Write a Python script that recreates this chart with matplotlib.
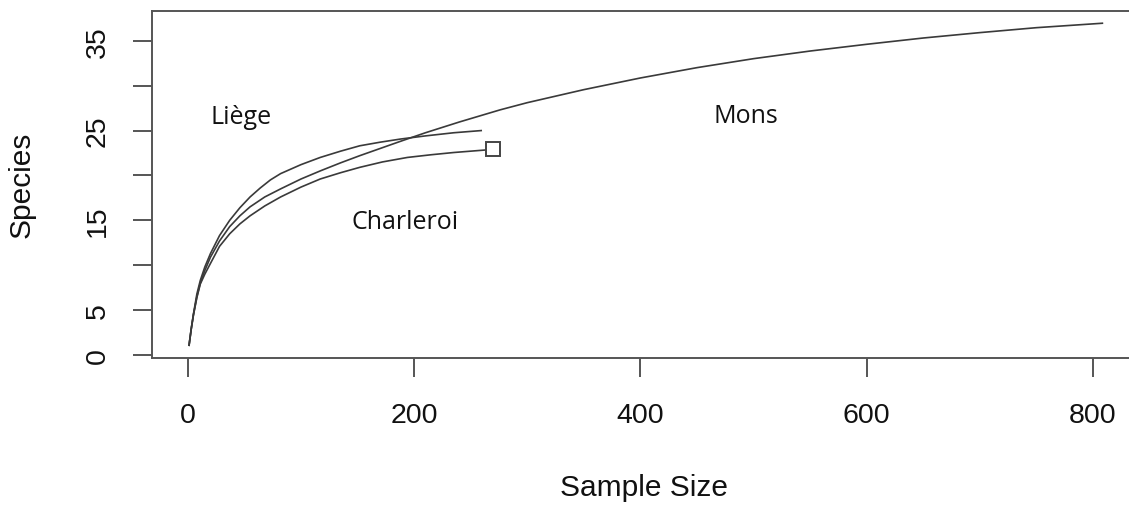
import matplotlib
matplotlib.use("Agg")
import matplotlib.pyplot as plt

# --- data ---
liege_x = [1, 3, 5, 8, 11, 15, 20, 28, 37, 46, 55, 64, 73, 82, 100, 117, 135, 152, 170, 188, 210, 235, 260]
liege_y = [1, 2.9, 4.6, 6.8, 8.3, 9.8, 11.3, 13.3, 15.0, 16.4, 17.6, 18.6, 19.5, 20.2, 21.2, 22.0,
           22.7, 23.3, 23.7, 24.05, 24.4, 24.75, 25.0]

mons_x = [1, 3, 5, 8, 11, 15, 20, 28, 37, 46, 55, 68, 82, 100, 117, 135, 152, 170, 188, 210, 240,
          276, 300, 350, 400, 450, 500, 550, 600, 650, 700, 750, 809]
mons_y = [1, 2.9, 4.5, 6.5, 8.0, 9.4, 10.9, 12.7, 14.3, 15.5, 16.5, 17.6, 18.5, 19.6, 20.5, 21.4,
          22.2, 23.0, 23.8, 24.75, 25.95, 27.3, 28.1, 29.55, 30.85, 32.0, 33.0, 33.85, 34.6, 35.3,
          35.9, 36.45, 36.95]

charleroi_x = [1, 3, 5, 8, 11, 15, 20, 28, 37, 46, 55, 68, 82, 100, 117, 135, 152, 172, 194, 215,
               235, 255, 270]
charleroi_y = [1, 2.9, 4.5, 6.4, 7.9, 9.0, 10.2, 12.1, 13.5, 14.6, 15.5, 16.6, 17.6, 18.7, 19.6,
               20.3, 20.9, 21.5, 22.0, 22.3, 22.55, 22.75, 22.9]

labels = ["Liège", "Charleroi", "Mons"]
label_x = [47, 192, 493]
label_y = [26.6, 14.9, 26.7]

x_ticks = [0, 200, 400, 600, 800]
y_ticks = [0, 5, 10, 15, 20, 25, 30, 35]
y_ticklabels = ["0", "5", "", "15", "", "25", "", "35"]

# --- figure ---
W, H = 1129, 506
fig = plt.figure(figsize=(W / 100, H / 100), dpi=100)
ax_l, ax_r, ax_t, ax_b = 152.3, 1141.0, 11.7, 359.0
ax = fig.add_axes([ax_l / W, 1 - ax_b / H, (ax_r - ax_l) / W, (ax_b - ax_t) / H])

line_col = "#3a3a3a"
lw = 1.2
ax.plot(liege_x, liege_y, color=line_col, lw=lw, solid_capstyle="butt")
ax.plot(mons_x, mons_y, color=line_col, lw=lw, solid_capstyle="butt")
ax.plot(charleroi_x, charleroi_y, color=line_col, lw=lw, solid_capstyle="butt")
ax.plot([charleroi_x[-1]], [charleroi_y[-1]], marker="s", ms=10.5, mfc="white",
        mec="#444444", mew=1.4, ls="none")

for t, x, y in zip(labels, label_x, label_y):
    ax.text(x, y, t, fontsize=18, family=["Open Sans", "DejaVu Sans"],
            ha="center", va="center", color="#111111")

ax.set_xlim(-31.4, 842.4)
ax.set_ylim(-0.33, 38.34)

spine_col = "#555555"
for s in ax.spines.values():
    s.set_color(spine_col)
    s.set_linewidth(1.4)

tick_font = dict(family=["Liberation Sans", "DejaVu Sans"], size=20.5)
ax.set_xticks(x_ticks)
ax.set_xticklabels([str(v) for v in x_ticks], **tick_font)
ax.set_yticks(y_ticks)
ax.set_yticklabels(y_ticklabels, rotation=90, va="center", **tick_font)
ax.tick_params(axis="both", length=13.7, width=1.4, color=spine_col, labelcolor="#111111")
ax.tick_params(axis="x", pad=18)
ax.tick_params(axis="y", pad=16)

lab_font = dict(family=["Liberation Sans", "DejaVu Sans"], size=21.5, color="#111111")
ax.set_xlabel("Sample Size", **lab_font)
ax.set_ylabel("Species", **lab_font)
axw, axh = ax_r - ax_l, ax_b - ax_t
ax.xaxis.set_label_coords((644.5 - ax_l) / axw, (ax_b - 488) / axh)
ax.xaxis.label.set_va("center")
ax.yaxis.set_label_coords((22 - ax_l) / axw, (ax_b - 185) / axh)
ax.yaxis.label.set_va("center")

fig.savefig("out.png", dpi=100)
